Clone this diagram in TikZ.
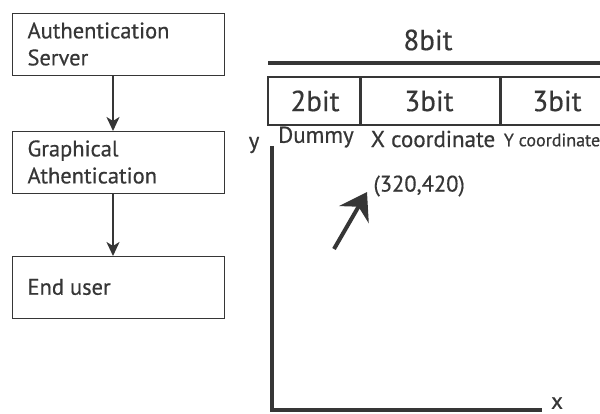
\documentclass[tikz,border=0pt]{standalone}
\usepackage{fontspec}
\setmainfont[FakeBold=0.5]{PT Sans}
\usetikzlibrary{arrows.meta}
\definecolor{ink}{HTML}{363636}
\begin{document}
\begin{tikzpicture}[x=1pt,y=-1pt,
  flowbox/.style={draw=ink,line width=1.3pt,minimum width=212pt,minimum height=62pt,anchor=north west,inner sep=0pt},
  boxtext/.style={text=ink,font=\fontsize{22.5}{27}\selectfont,align=left,anchor=west},
  flowarrow/.style={draw=ink,line width=2pt,-{Stealth[length=14pt,width=13pt,inset=4pt]}},
  bitlabel/.style={text=ink,font=\fontsize{29}{30}\selectfont},
  fieldlabel/.style={text=ink,font=\fontsize{23}{24}\selectfont},
  thick line/.style={draw=ink,line width=4pt}]
\useasboundingbox (0,0) rectangle (600,414);
% flowchart
\node[flowbox] (b1) at (12,13) {};
\node[flowbox] (b2) at (12,131) {};
\node[flowbox] (b3) at (12,256) {};
\node[boxtext] (t1) at (24,44) {Authentication\\Server};
\node[boxtext] (t2) at (24,162) {Graphical\\Athentication};
\node[boxtext] (t3) at (24,287) {End user};
\draw[flowarrow] (b1.south -| 113,0) -- (b2.north -| 113,0);
\draw[flowarrow] (b2.south -| 113,0) -- (b3.north -| 113,0);
% bit field
\coordinate (topL) at (268,63);
\coordinate (topR) at (601,63);
\draw[thick line] (topL) -- (topR);
\node[bitlabel] (eight) at (428,40) {8bit};
\draw[ink,line width=1.3pt] (268,77) rectangle (603,125);
\draw[ink,line width=3pt] (360,77) -- (360,125);
\draw[ink,line width=3pt] (500,77) -- (500,125);
\node[bitlabel] (f1) at (315,101) {2bit};
\node[bitlabel] (f2) at (429,101) {3bit};
\node[bitlabel] (f3) at (557,101) {3bit};
\node[fieldlabel] (l1) at (316,137) {Dummy};
\node[fieldlabel] (l2) at (433,139) {X coordinate};
\node[text=ink,font=\fontsize{18}{20}\selectfont] (l3) at (552,140) {Y coordinate};
% axes
\coordinate (origin) at (272,410);
\coordinate (ytop) at (272,146);
\coordinate (xend) at (542,410);
\draw[thick line,line cap=butt] (ytop) -- (origin) -- (xend);
\node[fieldlabel] (ylab) at (254,145) {y};
\node[fieldlabel,inner sep=1pt] (xlab) at (557,403) {x};
% point
\node[text=ink,font=\fontsize{22.5}{24}\selectfont,anchor=west] (pt) at (370,186) {(320,420)};
\coordinate (tail) at (334,249);
\coordinate (tip) at (367,192);
\draw[draw=ink,line width=4pt,-{Stealth[length=26pt,width=34pt,inset=9pt]}] (tail) -- (tip);
\end{tikzpicture}
\end{document}
